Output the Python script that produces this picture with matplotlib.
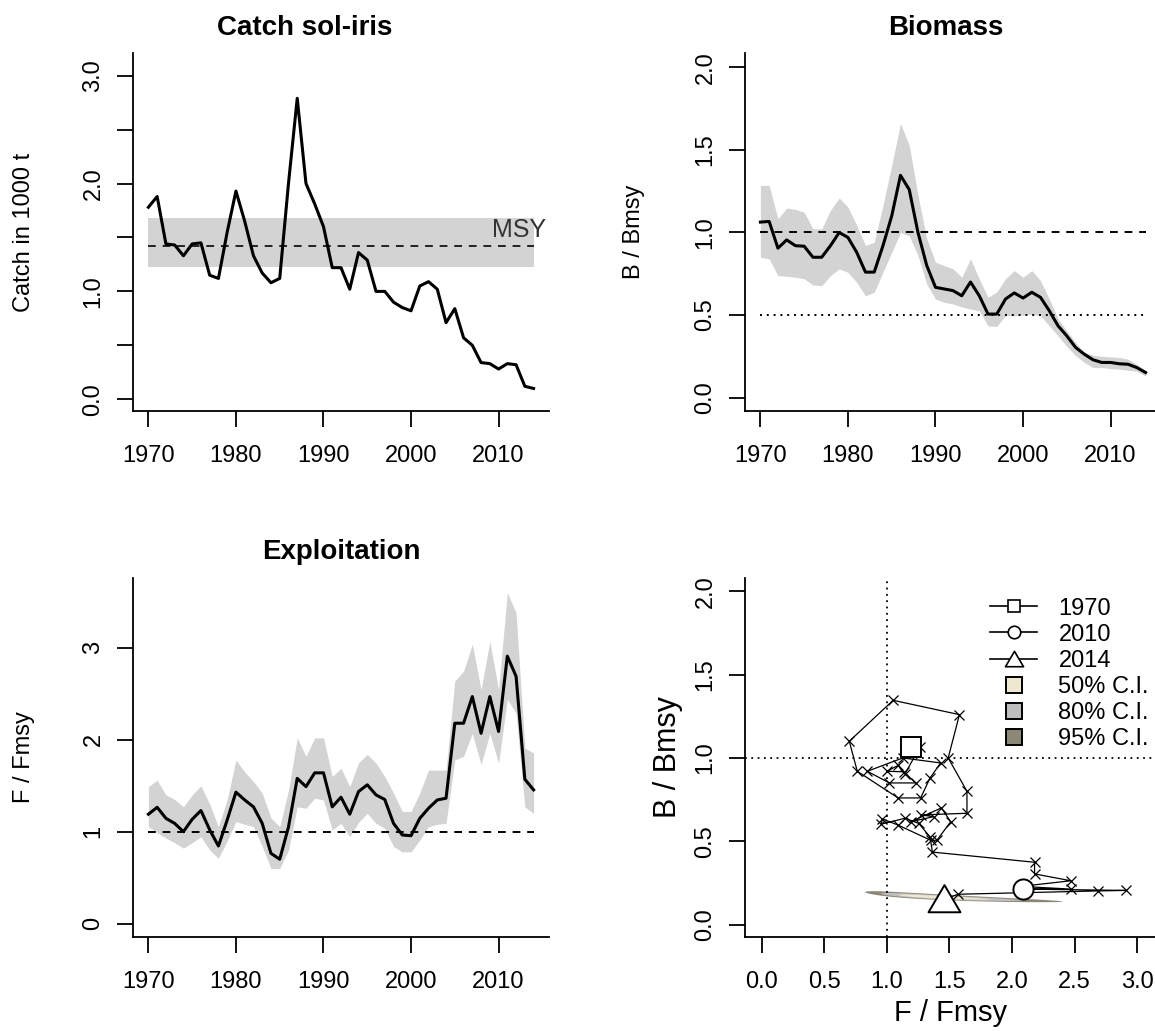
import numpy as np
import matplotlib
matplotlib.use("Agg")
import matplotlib.pyplot as plt
from matplotlib.lines import Line2D
from matplotlib.path import Path

plt.rcParams['font.family'] = ['Liberation Sans', 'DejaVu Sans']

# ---- data ----
years = np.arange(1970, 2015)

catch = [1.78, 1.88, 1.44, 1.43, 1.33, 1.44, 1.45, 1.15, 1.12, 1.55,
         1.93, 1.65, 1.33, 1.17, 1.08, 1.12, 2.00, 2.79, 2.00, 1.81,
         1.60, 1.22, 1.22, 1.02, 1.36, 1.29, 1.00, 1.00, 0.90, 0.85,
         0.82, 1.05, 1.09, 1.02, 0.71, 0.84, 0.57, 0.50, 0.34, 0.33,
         0.28, 0.33, 0.32, 0.12, 0.10]
msy = 1.417
msy_lo, msy_hi = 1.225, 1.684

bbmsy = [1.063, 1.067, 0.905, 0.955, 0.920, 0.917, 0.850, 0.850, 0.920, 1.000,
         0.970, 0.880, 0.760, 0.760, 0.920, 1.100, 1.346, 1.260, 1.000, 0.800,
         0.668, 0.658, 0.648, 0.617, 0.700, 0.617, 0.506, 0.506, 0.597, 0.634,
         0.603, 0.638, 0.607, 0.526, 0.435, 0.374, 0.304, 0.263, 0.229, 0.213,
         0.213, 0.205, 0.202, 0.182, 0.152]
bbmsy_hi = [1.285, 1.285, 1.083, 1.148, 1.140, 1.123, 1.022, 1.022, 1.134, 1.209,
            1.154, 1.043, 0.921, 0.941, 1.164, 1.407, 1.660, 1.528, 1.225, 0.962,
            0.820, 0.800, 0.780, 0.729, 0.840, 0.719, 0.607, 0.640, 0.720, 0.769,
            0.729, 0.769, 0.708, 0.597, 0.476, 0.405, 0.334, 0.273, 0.257, 0.250,
            0.247, 0.243, 0.233, 0.202, 0.162]
bbmsy_lo = [0.850, 0.840, 0.739, 0.735, 0.729, 0.720, 0.682, 0.678, 0.739, 0.779,
            0.759, 0.698, 0.617, 0.638, 0.759, 0.880, 1.000, 0.980, 0.860, 0.688,
            0.597, 0.577, 0.567, 0.550, 0.536, 0.526, 0.435, 0.431, 0.496, 0.496,
            0.500, 0.506, 0.496, 0.435, 0.374, 0.310, 0.255, 0.213, 0.182, 0.182,
            0.176, 0.172, 0.166, 0.160, 0.130]

ffmsy = [1.19, 1.265, 1.145, 1.09, 1.00, 1.135, 1.23, 1.02, 0.844, 1.127,
         1.43, 1.345, 1.27, 1.09, 0.764, 0.70, 1.05, 1.58, 1.49, 1.64,
         1.64, 1.27, 1.375, 1.19, 1.436, 1.51, 1.40, 1.35, 1.09, 0.964,
         0.956, 1.145, 1.255, 1.345, 1.364, 2.18, 2.18, 2.47, 2.07, 2.47,
         2.09, 2.91, 2.69, 1.57, 1.455]
ffmsy_hi = [1.49, 1.56, 1.40, 1.35, 1.27, 1.40, 1.50, 1.30, 1.055, 1.35,
            1.78, 1.65, 1.545, 1.42, 1.15, 1.055, 1.45, 2.02, 1.82, 2.02,
            2.02, 1.60, 1.69, 1.49, 1.75, 1.84, 1.745, 1.60, 1.42, 1.22,
            1.22, 1.42, 1.67, 1.67, 1.67, 2.64, 2.745, 3.04, 2.545, 3.07,
            2.545, 3.60, 3.38, 1.91, 1.855]
ffmsy_lo = [1.055, 0.99, 0.93, 0.88, 0.82, 0.88, 0.945, 0.80, 0.71, 0.90,
            1.11, 1.08, 1.055, 0.84, 0.60, 0.60, 0.80, 1.27, 1.255, 1.364,
            1.345, 1.02, 1.09, 0.945, 1.10, 1.20, 1.09, 1.036, 0.84, 0.78,
            0.78, 0.91, 1.055, 1.08, 1.09, 1.78, 1.82, 2.07, 1.73, 2.07,
            1.745, 2.44, 2.29, 1.27, 1.20]

# confidence region of the last state (log scale)
ci_center = (1.41, 0.164)
ci_sd = (0.218, 0.082)
ci_rho = -0.86
ci_levels = [0.95, 0.80, 0.50]
ci_colors = ['#8C8878', '#BEBEBE', '#EDE8CF']
ci_labels = ['50% C.I.', '80% C.I.', '95% C.I.']
mark_years = [1970, 2010, 2014]
wide_tri = Path([(-1, -0.8), (1, -0.8), (0, 0.9), (-1, -0.8)], closed=True)
mark_shapes = ['s', 'o', wide_tri]
mark_sizes = [15, 14.5, 23]

band = '#D3D3D3'
dash = (0, (4, 3.5))
dot = (0, (1, 2.5))
FS = 17

W, H = 1155, 1031
fig = plt.figure(figsize=(W / 100, H / 100), dpi=100)


def add_ax(left, top, w=416, h=358):
    return fig.add_axes([left / W, (H - top - h) / H, w / W, h / H])


def style(ax):
    for s in ['top', 'right']:
        ax.spines[s].set_visible(False)
    for s in ['left', 'bottom']:
        ax.spines[s].set_linewidth(1.3)
    ax.tick_params(direction='out', length=11.5, width=1.3, labelsize=FS)
    ax.tick_params(axis='x', pad=13)
    ax.tick_params(axis='y', pad=9, labelrotation=90)
    for t in ax.get_yticklabels():
        t.set_va('center')


# ---- Catch ----
ax1 = add_ax(133, 53)
ax1.fill_between([1970, 2014], msy_lo, msy_hi, color=band, lw=0)
ax1.plot([1970, 2014], [msy, msy], color='#222222', ls=dash, lw=1.4)
ax1.plot(years, catch, color='k', lw=2.2)
ax1.text(2015.4, msy + 0.04, 'MSY', ha='right', va='bottom', fontsize=18, color='#333333')
ax1.set_xlim(1968.24, 2015.76)
ax1.set_ylim(-0.109, 3.21)
ax1.set_xticks(range(1970, 2011, 10))
ax1.set_yticks(np.arange(0, 3.01, 0.5))
ax1.set_yticklabels(['0.0', '', '1.0', '', '2.0', '', '3.0'])
ax1.set_ylabel('Catch in 1000 t', fontsize=FS)
ax1.yaxis.set_label_coords(-0.236, 0.5)
ax1.set_title('Catch sol-iris', fontsize=20, fontweight='bold', pad=13, x=0.412)
style(ax1)

# ---- Biomass ----
ax2 = add_ax(745, 53)
ax2.fill_between(years, bbmsy_lo, bbmsy_hi, color=band, lw=0)
ax2.plot([1970, 2014], [1, 1], color='k', ls=dash, lw=1.4)
ax2.plot([1970, 2014], [0.5, 0.5], color='k', ls=dot, lw=1.4)
ax2.plot(years, bbmsy, color='k', lw=2.2)
ax2.set_xlim(1968.24, 2015.76)
ax2.set_ylim(-0.081, 2.087)
ax2.set_xticks(range(1970, 2011, 10))
ax2.set_yticks(np.arange(0, 2.01, 0.5))
ax2.set_yticklabels(['0.0', '0.5', '1.0', '1.5', '2.0'])
ax2.set_ylabel('B / Bmsy', fontsize=FS)
ax2.yaxis.set_label_coords(-0.240, 0.5)
ax2.set_title('Biomass', fontsize=20, fontweight='bold', pad=13, x=0.483)
style(ax2)

# ---- Exploitation ----
ax3 = add_ax(133, 578, h=359)
ax3.fill_between(years, ffmsy_lo, ffmsy_hi, color=band, lw=0)
ax3.plot([1970, 2014], [1, 1], color='k', ls=dash, lw=1.4)
ax3.plot(years, ffmsy, color='k', lw=2.2)
ax3.set_xlim(1968.24, 2015.76)
ax3.set_ylim(-0.146, 3.76)
ax3.set_xticks(range(1970, 2011, 10))
ax3.set_yticks([0, 1, 2, 3])
ax3.set_yticklabels(['0', '1', '2', '3'])
ax3.set_ylabel('F / Fmsy', fontsize=FS)
ax3.yaxis.set_label_coords(-0.236, 0.5)
ax3.set_title('Exploitation', fontsize=20, fontweight='bold', pad=14, x=0.5)
style(ax3)

# ---- Kobe ----
ax4 = add_ax(745, 578, h=359)
theta = np.linspace(0, 2 * np.pi, 200)
sF, sB = ci_sd
for p, col in zip(ci_levels, ci_colors):
    r = np.sqrt(-2 * np.log(1 - p))
    u1, u2 = r * np.cos(theta), r * np.sin(theta)
    lf = sF * u1
    lb = ci_rho * sB * u1 + sB * np.sqrt(1 - ci_rho ** 2) * u2
    ax4.fill(ci_center[0] * np.exp(lf), ci_center[1] * np.exp(lb),
             color=col, lw=0, zorder=1)
ax4.axvline(1, color='k', ls=dot, lw=1.3, zorder=2)
ax4.axhline(1, color='k', ls=dot, lw=1.3, zorder=2)
ax4.plot(ffmsy, bbmsy, color='k', lw=0.9, marker='x', ms=7, mew=0.9, zorder=3)
for yr, m, s in zip(mark_years, mark_shapes, mark_sizes):
    i = list(years).index(yr)
    ax4.plot(ffmsy[i], bbmsy[i], ls='none', marker=m, ms=s, mfc='white',
             mec='k', mew=1.4, zorder=4)
ax4.set_xlim(-0.133, 3.19)
ax4.set_ylim(-0.0746, 2.08)
ax4.set_xticks(np.arange(0, 3.01, 0.5))
ax4.set_xticklabels(['0.0', '0.5', '1.0', '1.5', '2.0', '2.5', '3.0'])
ax4.set_yticks(np.arange(0, 2.01, 0.5))
ax4.set_yticklabels(['0.0', '0.5', '1.0', '1.5', '2.0'])
ax4.set_xlabel('F / Fmsy', fontsize=21)
ax4.xaxis.set_label_coords(0.495, -0.172)
ax4.set_ylabel('B / Bmsy', fontsize=22)
ax4.yaxis.set_label_coords(-0.149, 0.5)
style(ax4)

handles = []
for yr, m in zip(mark_years, mark_shapes):
    handles.append(Line2D([], [], color='k', lw=1.2, marker=m,
                          ms=13 if m is wide_tri else 9, mfc='white', mec='k', mew=1.2))
for col in ci_colors[::-1]:
    handles.append(Line2D([], [], ls='none', marker='s', ms=12,
                          mfc=col, mec='k', mew=1.4))
labels = [str(y) for y in mark_years] + ci_labels
ax4.legend(handles, labels, loc='upper left', bbox_to_anchor=(0.589, 0.945),
           frameon=False, fontsize=FS, labelspacing=0.17, handlelength=2.0,
           handletextpad=0.9, borderpad=0, borderaxespad=0)

fig.savefig('out.png', dpi=100)
